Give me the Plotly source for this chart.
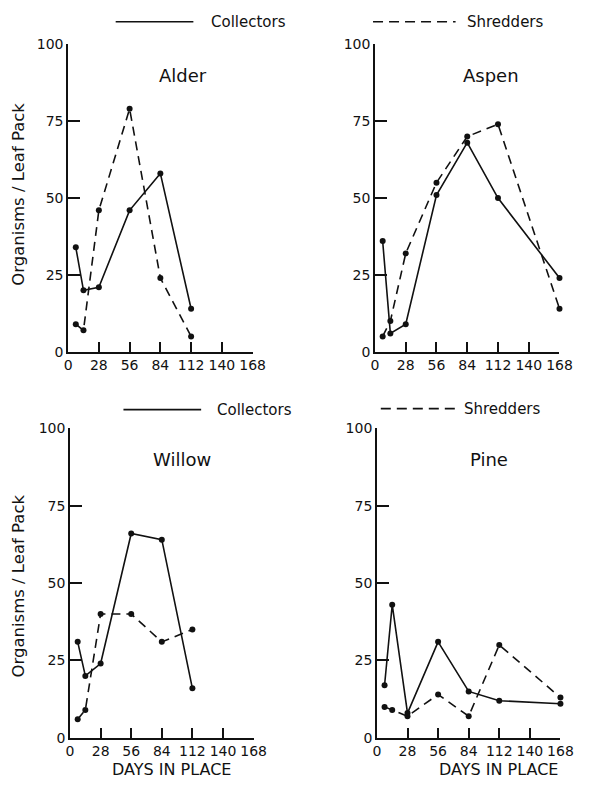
import plotly.graph_objects as go

# ---------------- data ----------------
days_short = [7, 14, 28, 56, 84, 112]
days_long = [7, 14, 28, 56, 84, 112, 168]

alder_collectors = [34, 20, 21, 46, 58, 14]
alder_shredders = [9, 7, 46, 79, 24, 5]

aspen_collectors = [36, 6, 9, 51, 68, 50, 24]
aspen_shredders = [5, 10, 32, 55, 70, 74, 14]

willow_collectors = [31, 20, 24, 66, 64, 16]
willow_shredders = [6, 9, 40, 40, 31, 35]

pine_collectors = [17, 43, 8, 31, 15, 12, 11]
pine_shredders = [10, 9, 7, 14, 7, 30, 13]

x_ticks = [0, 28, 56, 84, 112, 140, 168]
y_ticks = [0, 25, 50, 75, 100]

panels = [
    ("Alder", days_short, alder_collectors, alder_shredders),
    ("Aspen", days_long, aspen_collectors, aspen_shredders),
    ("Willow", days_short, willow_collectors, willow_shredders),
    ("Pine", days_long, pine_collectors, pine_shredders),
]

# ---------------- layout geometry (pixels) ----------------
W, H = 589, 786
def px(x):
    return x / W
def py(y):
    return 1 - y / H

# (x0, x1, ytop, ybottom) in pixels
boxes = [
    (66, 256, 37, 351),
    (382, 572, 37, 351),
    (68, 257, 429, 745),
    (384, 573, 429, 745),
]
title_pos = [(184, 69), (501, 69), (183, 461), (499, 461)]

FONT = "DejaVu Sans"
BLACK = "#111111"

fig = go.Figure()
layout = dict(
    width=W, height=H,
    margin=dict(l=0, r=0, t=0, b=0),
    paper_bgcolor="white", plot_bgcolor="white",
    showlegend=False,
    font=dict(family=FONT, size=14, color=BLACK),
)
annotations = []
shapes = []

for i, (name, days, coll, shred) in enumerate(panels):
    n = "" if i == 0 else str(i + 1)
    xa, ya = "x" + n, "y" + n
    x0, x1, yt, yb = boxes[i]
    fig.add_trace(go.Scatter(
        x=days, y=coll, mode="lines+markers", xaxis=xa, yaxis=ya,
        line=dict(color=BLACK, width=1.6),
        marker=dict(color=BLACK, size=6), cliponaxis=False, name="Collectors"))
    fig.add_trace(go.Scatter(
        x=days, y=shred, mode="lines+markers", xaxis=xa, yaxis=ya,
        line=dict(color=BLACK, width=1.6, dash="9px,6px"),
        marker=dict(color=BLACK, size=6), cliponaxis=False, name="Shredders"))
    common = dict(showline=True, linecolor=BLACK, linewidth=1.6,
                  showgrid=False, zeroline=False, ticks="inside",
                  tickcolor=BLACK, tickwidth=1.6,
                  tickfont=dict(family=FONT, size=14, color=BLACK))
    layout["xaxis" + n] = dict(common, domain=[px(x0), px(x1)], range=[0, 168],
                               tickvals=x_ticks, ticklen=10, anchor=ya)
    layout["yaxis" + n] = dict(common, domain=[py(yb), py(yt)], range=[0, 100],
                               tickvals=y_ticks, ticklen=12, anchor=xa)
    tx, ty = title_pos[i]
    annotations.append(dict(text=name, x=px(tx), y=py(ty), xref="paper", yref="paper",
                            showarrow=False, font=dict(size=18, family=FONT, color=BLACK),
                            xanchor="center", yanchor="middle"))

# y axis titles
for cy in (190, 590):
    annotations.append(dict(text="Organisms / Leaf Pack", x=px(15), y=py(cy),
                            xref="paper", yref="paper", showarrow=False, textangle=-90,
                            font=dict(size=16.5, family=FONT, color=BLACK),
                            xanchor="center", yanchor="middle"))
# x axis titles
for cx in (172, 509):
    annotations.append(dict(text="DAYS IN PLACE", x=px(cx), y=py(777),
                            xref="paper", yref="paper", showarrow=False,
                            font=dict(size=16, family=FONT, color=BLACK),
                            xanchor="center", yanchor="middle"))

# legend keys (top and bottom rows)
legend_rows = [
    # (solid x0, x1, y, text_x, dashed x0, x1, y, text_x)
    (115, 195, 14, 211, 380, 465, 14, 475),
    (123, 203, 410, 217, 388, 465, 409, 472),
]
for sx0, sx1, sy, stx, dx0, dx1, dy, dtx in legend_rows:
    shapes.append(dict(type="line", xref="paper", yref="paper",
                       x0=px(sx0), x1=px(sx1), y0=py(sy), y1=py(sy),
                       line=dict(color=BLACK, width=1.6)))
    annotations.append(dict(text="Collectors", x=px(stx), y=py(sy), xref="paper", yref="paper",
                            showarrow=False, xanchor="left", yanchor="middle",
                            font=dict(size=15, family=FONT, color=BLACK)))
    shapes.append(dict(type="line", xref="paper", yref="paper",
                       x0=px(dx0), x1=px(dx1), y0=py(dy), y1=py(dy),
                       line=dict(color=BLACK, width=1.6, dash="10px,6px")))
    annotations.append(dict(text="Shredders", x=px(dtx), y=py(dy), xref="paper", yref="paper",
                            showarrow=False, xanchor="left", yanchor="middle",
                            font=dict(size=15, family=FONT, color=BLACK)))

layout["annotations"] = annotations
layout["shapes"] = shapes
fig.update_layout(**layout)
fig.write_html(
    "out.html",
    config={"displayModeBar": False},
    post_script="document.body.style.margin='0';document.body.style.overflow='hidden';",
)
